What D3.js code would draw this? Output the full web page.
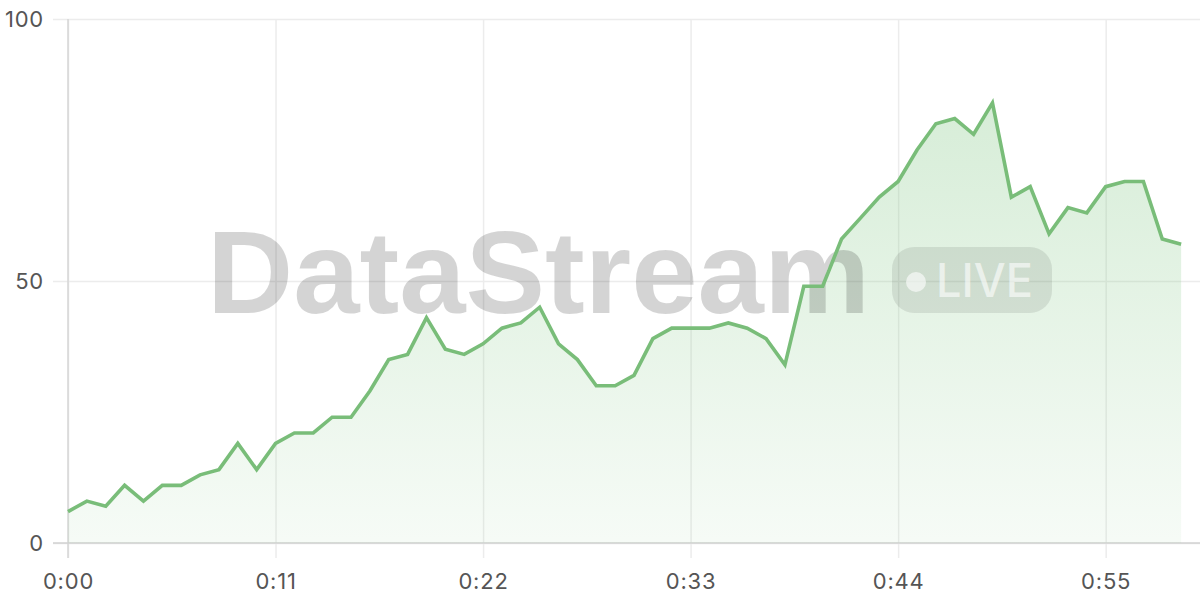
<!DOCTYPE html>
<html>
<head>
<meta charset="utf-8">
<script src="https://cdn.jsdelivr.net/npm/d3@7"></script>
<style>
  html, body { margin: 0; padding: 0; background: #fff; }
  svg { display: block; }
</style>
</head>
<body>
<svg id="chart" width="1200" height="600"></svg>
<script>
// ---- data ----
const seconds = d3.range(0, 60);
const values = [6, 8, 7, 11, 8, 11, 11, 13, 14, 19,
                14, 19, 21, 21, 24, 24, 29, 35, 36, 43,
                37, 36, 38, 41, 42, 45, 38, 35, 30, 30,
                32, 39, 41, 41, 41, 42, 41, 39, 34, 49,
                49, 58, 62, 66, 69, 75, 80, 81, 78, 84,
                66, 68, 59, 64, 63, 68, 69, 69, 58, 57];
const xTicks = [0, 11, 22, 33, 44, 55];
const yTicks = [0, 50, 100];
const watermarkText = "DataStream";
const badgeText = "LIVE";

const data = seconds.map((s, i) => ({ s, v: values[i] }));

const svg = d3.select("#chart");
const margin = { left: 68, right: 0, top: 19, bottom: 57 };
const W = 1200, H = 600;

const x = d3.scaleLinear().domain([0, 60]).range([margin.left, W - margin.right]);
const y = d3.scaleLinear().domain([0, 100]).range([H - margin.bottom, margin.top]);

const fmt = s => Math.floor(s / 60) + ":" + String(s % 60).padStart(2, "0");

// gradient
const defs = svg.append("defs");
const grad = defs.append("linearGradient")
  .attr("id", "areaGrad")
  .attr("gradientUnits", "userSpaceOnUse")
  .attr("x1", 0).attr("x2", 0).attr("y1", y(84)).attr("y2", y(0));
grad.append("stop").attr("offset", "0%").attr("stop-color", "#81c784").attr("stop-opacity", 0.32);
grad.append("stop").attr("offset", "100%").attr("stop-color", "#81c784").attr("stop-opacity", 0.07);

// horizontal grid (y axis)
const yAxis = d3.axisLeft(y).tickValues(yTicks).tickSize(0).tickPadding(0);
const gy = svg.append("g").attr("transform", `translate(${margin.left},0)`).call(yAxis);
gy.select(".domain").remove();
gy.selectAll(".tick line").attr("x1", -15).attr("x2", W - margin.left)
  .attr("stroke", "#ececec").attr("stroke-width", 1.5);
gy.selectAll(".tick text").attr("x", -24)
  .attr("font-family", "Inter, 'Open Sans', sans-serif").attr("font-size", 22)
  .attr("letter-spacing", "0.8px")
  .attr("fill", "#555").attr("dy", "0.36em");

// vertical grid (x axis)
const xAxis = d3.axisBottom(x).tickValues(xTicks).tickFormat(fmt).tickSize(0).tickPadding(0);
const gx = svg.append("g").attr("transform", `translate(0,${y(0)})`).call(xAxis);
gx.select(".domain").remove();
gx.selectAll(".tick line").attr("y1", -(y(0) - margin.top)).attr("y2", 15)
  .attr("stroke", "#ececec").attr("stroke-width", 1.5);
gx.selectAll(".tick text").attr("y", 46).attr("dy", 0)
  .attr("font-family", "Inter, 'Open Sans', sans-serif").attr("font-size", 22)
  .attr("letter-spacing", "0.8px")
  .attr("fill", "#555");

// axis lines
svg.append("line").attr("x1", margin.left).attr("x2", margin.left)
  .attr("y1", margin.top).attr("y2", y(0) + 15)
  .attr("stroke", "#d6d6d6").attr("stroke-width", 1.5);
svg.append("line").attr("x1", margin.left - 15).attr("x2", W)
  .attr("y1", y(0)).attr("y2", y(0))
  .attr("stroke", "#d2d2d2").attr("stroke-width", 1.5);

// area
const area = d3.area().x(d => x(d.s)).y0(y(0)).y1(d => y(d.v));
svg.append("path").datum(data).attr("d", area).attr("fill", "url(#areaGrad)");

// watermark
const wm = svg.append("g").attr("pointer-events", "none");
wm.append("text").text(watermarkText)
  .attr("x", 207).attr("y", 313)
  .attr("font-family", "'Liberation Sans', Arial, sans-serif")
  .attr("font-weight", 700).attr("font-size", 116)
  .attr("textLength", 663).attr("lengthAdjust", "spacingAndGlyphs")
  .attr("fill", "#000").attr("fill-opacity", 0.17);
wm.append("rect").attr("x", 892).attr("y", 247).attr("width", 160).attr("height", 66)
  .attr("rx", 22).attr("fill", "#000").attr("fill-opacity", 0.09);
wm.append("circle").attr("cx", 916).attr("cy", 282).attr("r", 10)
  .attr("fill", "#fff").attr("fill-opacity", 0.6);
wm.append("text").text(badgeText)
  .attr("x", 936).attr("y", 297)
  .attr("font-family", "Inter, 'Liberation Sans', sans-serif")
  .attr("font-weight", 500)
  .attr("font-size", 46).attr("textLength", 97).attr("lengthAdjust", "spacingAndGlyphs")
  .attr("fill", "#fff").attr("fill-opacity", 0.6);

// line
const line = d3.line().x(d => x(d.s)).y(d => y(d.v));
svg.append("path").datum(data).attr("d", line)
  .attr("fill", "none").attr("stroke", "#79bd79").attr("stroke-width", 3.6)
  .attr("stroke-linejoin", "miter").attr("stroke-linecap", "butt");
</script>
</body>
</html>
